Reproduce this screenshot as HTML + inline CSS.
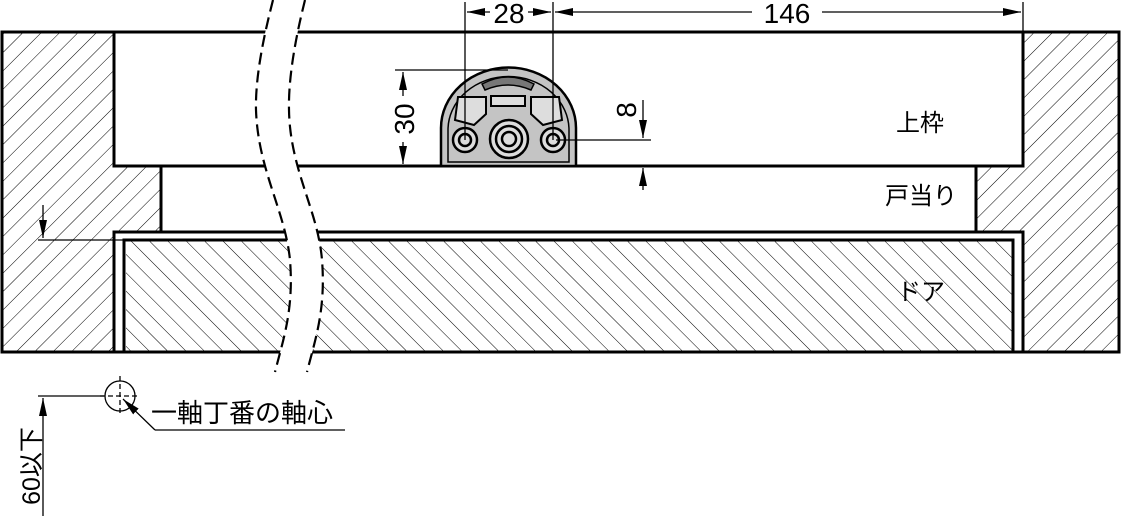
<!DOCTYPE html>
<html><head><meta charset="utf-8"><style>
html,body{margin:0;padding:0;background:#fff}
svg{display:block}
text{font-family:"Liberation Sans","Noto Sans CJK JP",sans-serif;fill:#000}
</style></head><body>
<svg width="1122" height="519" viewBox="0 0 1122 519" xmlns="http://www.w3.org/2000/svg">
<defs>
<pattern id="hf" patternUnits="userSpaceOnUse" width="13" height="13" patternTransform="rotate(45)">
<line x1="0" y1="0" x2="0" y2="13" stroke="#000" stroke-width="1"/></pattern>
<pattern id="hb" patternUnits="userSpaceOnUse" width="13" height="13" patternTransform="rotate(-45)">
<line x1="0" y1="0" x2="0" y2="13" stroke="#000" stroke-width="1"/></pattern>
<marker id="ar" viewBox="0 0 18 8" refX="18" refY="4" markerWidth="18" markerHeight="8" markerUnits="userSpaceOnUse" orient="auto-start-reverse"><path d="M0,0L18,4L0,8Z" fill="#000"/></marker>
</defs>
<path d="M2,32H114V166H161V232H114V352H2Z" fill="url(#hf)"/>
<path d="M1023,32H1119V352H1023V232H976V166H1023Z" fill="url(#hf)"/>
<rect x="126" y="240" width="887" height="112" fill="url(#hb)"/>
<g fill="none" stroke="#000" stroke-width="3">
<path d="M2,32H1119V352H2Z"/>
<path d="M114,32V166H1023V32"/>
<path d="M161,166V232H114V352"/>
<path d="M976,166V232H1023V352"/>
<path d="M124,352V240H1013V352"/>
<path d="M114,232H976"/>
</g>
<path d="M273,0 C268,20 255,70 256,110 C258,170 285,210 290,260 C294,310 283,340 275,372 L307,372 C315,340 326,310 322,260 C318,210 290,170 289,110 C288,70 300,20 305,0Z" fill="#fff"/>
<g fill="none" stroke="#000" stroke-width="2.2" stroke-dasharray="12,6">
<path d="M273,0 C268,20 255,70 256,110 C258,170 285,210 290,260 C294,310 283,340 275,372"/>
<path d="M305,0 C300,20 288,70 289,110 C290,170 318,210 322,260 C326,310 315,340 307,372"/>
</g>
<path d="M441,166V128A67,60 0 0 1 576,128V166Z" fill="#c4c4c4" stroke="#000" stroke-width="2.5"/>
<path d="M448,162V130A60,53 0 0 1 569,130V162Z" fill="none" stroke="#000" stroke-width="1.5"/>
<path d="M482,84Q508,70 534,84L531,90Q508,80 485,90Z" fill="#777" stroke="#000" stroke-width="1.5"/>
<rect x="491" y="96" width="34" height="10" fill="#ddd" stroke="#000" stroke-width="2"/>
<path d="M455,120L458,97H486V114L474,125Z M562,120L559,97H531V114L543,125Z" fill="#ddd" stroke="#000" stroke-width="2"/>
<g fill="#ddd" stroke="#000" stroke-width="2.5">
<circle cx="465" cy="140" r="12"/><circle cx="465" cy="140" r="6"/>
<circle cx="553" cy="140" r="12"/><circle cx="553" cy="140" r="6"/>
<circle cx="509" cy="139" r="19"/><circle cx="509" cy="139" r="13"/><circle cx="509" cy="139" r="7"/>
</g>
<g stroke="#000" stroke-width="1.3" fill="none">
<line x1="465" y1="2" x2="465" y2="140"/>
<line x1="553" y1="2" x2="553" y2="140"/>
<line x1="1023" y1="2" x2="1023" y2="32"/>
<line x1="467" y1="12" x2="490" y2="12" marker-start="url(#ar)"/>
<line x1="528" y1="12" x2="551" y2="12" marker-end="url(#ar)"/>
<line x1="555" y1="12" x2="752" y2="12" marker-start="url(#ar)"/>
<line x1="822" y1="12" x2="1021" y2="12" marker-end="url(#ar)"/>
<line x1="395" y1="70" x2="508" y2="70"/>
<line x1="403" y1="72" x2="403" y2="96" marker-start="url(#ar)"/>
<line x1="403" y1="142" x2="403" y2="164" marker-end="url(#ar)"/>
<line x1="556" y1="140" x2="651" y2="140"/>
<line x1="643" y1="100" x2="643" y2="138" marker-end="url(#ar)"/>
<line x1="643" y1="168" x2="643" y2="190" marker-start="url(#ar)"/>
<line x1="38" y1="240" x2="126" y2="240"/>
<line x1="43" y1="205" x2="43" y2="238" marker-end="url(#ar)"/>
<line x1="43" y1="398" x2="43" y2="516" marker-start="url(#ar)"/>
<line x1="38" y1="396" x2="104" y2="396"/>
<circle cx="120" cy="396" r="15"/>
<line x1="120" y1="376" x2="120" y2="416" stroke-dasharray="5,3"/>
<line x1="100" y1="396" x2="140" y2="396" stroke-dasharray="5,3"/>
<line x1="155" y1="430" x2="345" y2="430"/>
<line x1="155" y1="430" x2="123" y2="399" marker-end="url(#ar)"/>
</g>
<text x="509" y="23" font-size="28" text-anchor="middle">28</text>
<text x="787" y="23" font-size="28" text-anchor="middle">146</text>
<text transform="translate(414,119) rotate(-90)" font-size="28" text-anchor="middle">30</text>
<text transform="translate(636,110) rotate(-90)" font-size="28" text-anchor="middle">8</text>
<text x="896" y="131" font-size="24">上枠</text>
<text x="885" y="204" font-size="24">戸当り</text>
<text x="897" y="300" font-size="24">ドア</text>
<text x="151" y="422" font-size="26">一軸丁番の軸心</text>
<text transform="translate(40,466) rotate(-90)" font-size="25" text-anchor="middle">60以下</text>
</svg>
</body></html>
